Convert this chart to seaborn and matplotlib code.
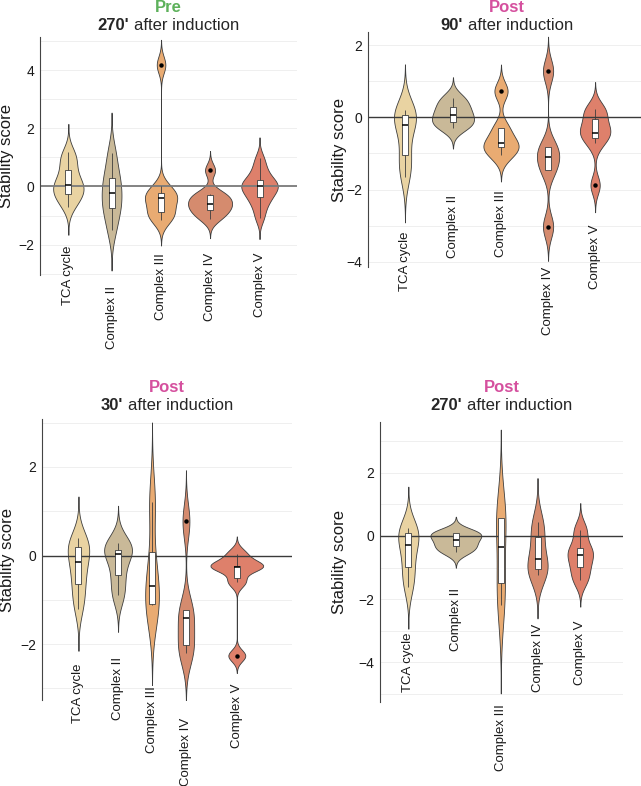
import numpy as np
import pandas as pd
import matplotlib
matplotlib.use("Agg")
import matplotlib.pyplot as plt
from matplotlib.ticker import MultipleLocator
import seaborn as sns

complexes = ["TCA cycle", "Complex II", "Complex III", "Complex IV", "Complex V"]
fill_colors = ["#E9D3A2", "#C9B998", "#E9AB72", "#D58B6E", "#DE806B"]

# stability scores per complex (TCA, II, III, IV, V)
pre_270 = [
    [-0.71, -0.5, -0.35, -0.25, -0.12, -0.02, 0.06, 0.15, 0.35, 0.57, 0.85, 1.0, 1.2],
    [-1.49, -0.85, -0.63, -0.21, 0.1, 0.48, 1.14],
    [-1.17, -0.95, -0.857, -0.47, -0.33, -0.307, 0.0, 4.19],
    [-1.12, -0.95, -0.8, -0.68, -0.59, -0.45, -0.29, -0.25, 0.56],
    [-1.09, -0.75, -0.5, -0.37, -0.22, -0.1, 0.0, 0.05, 0.12, 0.23, 0.42, 0.65, 0.97],
]
post_90 = [
    [-1.64, -1.3, -0.95, -0.35, -0.07, 0.02, 0.18, 0.2],
    [-0.28, -0.12, 0.065, 0.28, 0.53],
    [-1.04, -0.81, -0.70, -0.305, 0.73],
    [-3.03, -1.46, -1.09, -0.81, 1.29],
    [-1.88, -0.72, -0.44, -0.42, -0.2, 0.14, 0.23],
]
post_30 = [
    [-1.21, -0.95, -0.7, -0.46, -0.25, -0.05, 0.1, 0.22, 0.3, 0.39],
    [-0.89, -0.44, 0.03, 0.13, 0.29],
    [-1.12, -1.08, -0.28, 1.2],
    [-2.19, -2.02, -1.41, -1.23, 0.77],
    [-2.26, -0.59, -0.25, -0.25, -0.22, 0.04],
]
post_270 = [
    [-1.62, -1.2, -0.74, -0.28, -0.05, 0.21, 0.24],
    [-0.5, -0.32, -0.13, 0.08, 0.1],
    [-2.18, -1.27, 0.55, 0.56],
    [-1.23, -1.04, -0.74, -0.05, 0.45],
    [-1.39, -0.97, -0.6, -0.39, 0.19],
]

# x placement of the violins and of the rotated category labels
pos_pre_270 = [0, 0.90, 1.93, 2.95, 3.98]
pos_post_90 = [0, 1.0, 2.0, 2.98, 3.96]
pos_post_30 = [0, 0.825, 1.533, 2.24, 3.30]
pos_post_270 = [0, 0.99, 1.925, 2.69, 3.58]
lab_pre_270 = [-2.05, -3.42, -2.28, -2.28, -2.28]
lab_post_90 = [-3.17, -2.15, -2.03, -4.14, -2.96]
lab_post_30 = [-2.44, -2.28, -2.95, -3.67, -2.88]
lab_post_270 = [-3.04, -1.64, -5.31, -2.77, -2.67]

W, H = 641, 786
panels = [
    dict(status="Pre", scol="#5DB15B", time="270'", scores=pre_270, pos=pos_pre_270,
         lab=lab_pre_270, px=(40, 37, 297, 275), ylim=(-3.05, 5.15), xlim=(-0.59, 4.76),
         yticks=[-2, 0, 2, 4], vw=0.917, zc="#7a7a7a", zlw=1.3, ty=(7, 25), ylx=14),
    dict(status="Post", scol="#D5509E", time="90'", scores=post_90, pos=pos_post_90,
         lab=lab_post_90, px=(368, 32, 646, 267), ylim=(-4.15, 2.37), xlim=(-0.77, 5.02),
         yticks=[-4, -2, 0, 2], vw=0.875, zc="#3a3a3a", zlw=1.0, ty=(7, 25), ylx=347),
    dict(status="Post", scol="#D5509E", time="30'", scores=post_30, pos=pos_post_30,
         lab=lab_post_30, px=(42, 419, 292, 700), ylim=(-3.26, 3.08), xlim=(-0.76, 4.45),
         yticks=[-2, 0, 2], vw=1.10, zc="#3a3a3a", zlw=1.0, ty=(387, 405), ylx=15),
    dict(status="Post", scol="#D5509E", time="270'", scores=post_270, pos=pos_post_270,
         lab=lab_post_270, px=(380, 422, 623, 702), ylim=(-5.25, 3.6), xlim=(-0.59, 4.47),
         yticks=[-4, -2, 0, 2], vw=1.06, zc="#3a3a3a", zlw=1.0, ty=(387, 405), ylx=347),
]


def nrd0(kde):
    # R's default bandwidth (bw.nrd0), as a factor of the sample sd
    x = kde.dataset[0]
    sd = x.std(ddof=1)
    q1, q3 = np.percentile(x, [25, 75])
    return 0.9 * min(sd, (q3 - q1) / 1.34) * len(x) ** -0.2 / sd


sns.set_theme(style="white")
plt.rcParams["font.family"] = ["Liberation Sans", "DejaVu Sans"]

fig = plt.figure(figsize=(W / 100, H / 100), dpi=100)
renderer = fig.canvas.get_renderer()

for p in panels:
    x0, y0, x1, y1 = p["px"]
    ax = fig.add_axes([x0 / W, 1 - y1 / H, (x1 - x0) / W, (y1 - y0) / H])
    sizes = [len(v) for v in p["scores"]]
    df = pd.DataFrame({
        "complex": np.repeat(complexes, sizes),
        "pos": np.repeat(p["pos"], sizes),
        "score": np.concatenate(p["scores"]),
    })
    nw = np.diff(sorted(p["pos"])).min()

    sns.violinplot(data=df, x="pos", y="score", hue="complex", hue_order=complexes,
                   palette=dict(zip(complexes, fill_colors)), native_scale=True,
                   dodge=False, common_norm=True, density_norm="area", cut=3,
                   bw_method=nrd0, inner=None, width=p["vw"] / nw, linewidth=0.6,
                   linecolor="#3d3d3d", saturation=1, legend=False, ax=ax)
    ax.axhline(0, color=p["zc"], lw=p["zlw"], zorder=1.8)
    sns.boxplot(data=df, x="pos", y="score", native_scale=True, width=0.125 / nw,
                color="white", saturation=1, linecolor="#3d3d3d", linewidth=0.6,
                fliersize=2.2, showcaps=False,
                flierprops=dict(marker="o", markerfacecolor="black", markeredgecolor="black"),
                medianprops=dict(color="black", linewidth=1.1), ax=ax)

    for x, yl, name in zip(p["pos"], p["lab"], complexes):
        ax.text(x, yl, name, rotation=90, ha="center", va="top", fontsize=9.5,
                color="#1a1a1a", clip_on=False)

    ax.set_xlim(p["xlim"])
    ax.set_ylim(p["ylim"])
    ax.set_xticks([])
    ax.set_xlabel("")
    ax.set_yticks(p["yticks"])
    ax.yaxis.set_minor_locator(MultipleLocator(1))
    ax.set_axisbelow(True)
    ax.grid(axis="y", which="both", color="#ececec", lw=0.6)
    for s in ["top", "right", "bottom"]:
        ax.spines[s].set_visible(False)
    ax.spines["left"].set_color("#444444")
    ax.spines["left"].set_linewidth(0.8)
    ax.tick_params(axis="y", which="major", length=2.5, width=0.6, color="#444444",
                   labelsize=10, pad=1.5, labelcolor="#1a1a1a")
    ax.tick_params(axis="y", which="minor", length=0)
    ax.set_ylabel("Stability score", fontsize=12, color="#1a1a1a")
    ax.yaxis.set_label_coords((p["ylx"] - x0) / (x1 - x0), 0.5)

    # two-line title: coloured status, then bold time + plain text
    xc = (x0 + x1) / 2
    fig.text(xc / W, 1 - p["ty"][0] / H, p["status"], color=p["scol"], fontsize=12,
             fontweight="bold", ha="center", va="center")
    t1 = fig.text(0, 1 - p["ty"][1] / H, p["time"], fontsize=12, fontweight="bold",
                  ha="left", va="center")
    t2 = fig.text(0, 1 - p["ty"][1] / H, "after induction", fontsize=12,
                  ha="left", va="center")
    w1 = t1.get_window_extent(renderer).width
    w2 = t2.get_window_extent(renderer).width
    gap = 12 * 0.278 * 100 / 72
    left = xc - (w1 + gap + w2) / 2
    t1.set_x(left / W)
    t2.set_x((left + w1 + gap) / W)

fig.savefig("out.png", dpi=100)
